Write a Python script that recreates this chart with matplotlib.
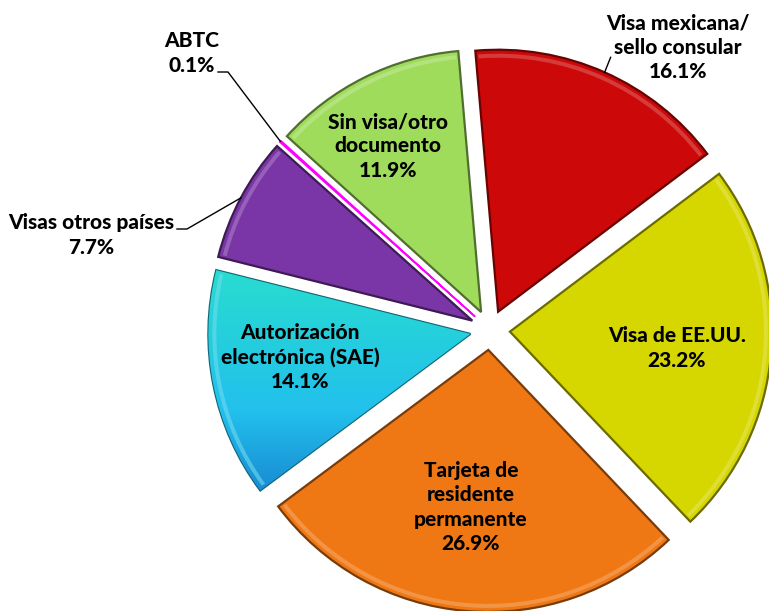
import numpy as np
import matplotlib
matplotlib.use("Agg")
import matplotlib.pyplot as plt
from matplotlib.colors import LinearSegmentedColormap, to_rgb
from matplotlib.patches import Wedge

categories = ["Visa mexicana/\nsello consular", "Visa de EE.UU.",
              "Tarjeta de\nresidente\npermanente", "Autorización\nelectrónica (SAE)",
              "Visas otros países", "ABTC", "Sin visa/otro\ndocumento"]
shares = [16.1, 23.2, 26.9, 14.1, 7.7, 0.1, 11.9]
colors = ["#CC0808", "#D6D600", "#F07814", "#22C8E6", "#7A35A6", "#FF20FF", "#A0DC5C"]

W, H = 769, 611
fig = plt.figure(figsize=(W / 100, H / 100), dpi=100)
ax = fig.add_axes([0, 0, 1, 1])

cx, cy, R = 490, H - 330, 262
# explode is in data units here (pixels)
wedges, _ = ax.pie(shares, colors=colors, startangle=95, counterclock=False,
                   center=(cx, cy), radius=R, explode=[20] * len(shares),
                   wedgeprops=dict(linewidth=1.6))


def shade(c, f):
    r = np.array(to_rgb(c))
    return tuple(r * f) if f < 1 else tuple(r + (1 - r) * (f - 1))


for w, c in zip(wedges, colors):
    w.set_edgecolor(shade(c, 0.5))
    # soft bevel highlight just inside the rim
    if w.theta2 - w.theta1 > 2:
        hl = Wedge(w.center, w.r - 4, w.theta1 + 0.6, w.theta2 - 0.6, width=4,
                   facecolor=shade(c, 1.35), edgecolor="none", alpha=0.6,
                   zorder=w.get_zorder() + 0.1)
        ax.add_patch(hl)
wedges[5].set_edgecolor("#FF00FF")
wedges[5].set_linewidth(1.2)

# gradient for the SAE slice
cmap = LinearSegmentedColormap.from_list("sae", ["#1262C0", "#22C0EC", "#28DCD0"])
grad = np.linspace(0, 1, 256).reshape(-1, 1)
im = ax.imshow(grad, cmap=cmap, extent=[cx - R - 40, cx, cy - R + 40, cy + 60],
               origin="lower", aspect="auto", zorder=wedges[3].get_zorder())
im.set_clip_path(wedges[3])
wedges[3].set_facecolor("none")


def outer_point(w):
    mid = np.deg2rad((w.theta1 + w.theta2) / 2)
    return w.center[0] + w.r * np.cos(mid), w.center[1] + w.r * np.sin(mid)


font = dict(fontfamily="Lato", fontweight="black", fontsize=15, color="black",
            ha="center", va="center", linespacing=1.32)

# labels inside slices
ax.text(677, H - 348, f"{categories[1]}\n{shares[1]}%", **font)
ax.text(471, H - 507, f"{categories[2]}\n{shares[2]}%", **font)
ax.text(300, H - 357, f"{categories[3]}\n{shares[3]}%", **font)
ax.text(388, H - 146, f"{categories[6]}\n{shares[6]}%", **font)

# labels outside with leader lines
ax.text(678, H - 47, f"{categories[0]}\n{shares[0]}%", **font)
px, py = outer_point(wedges[0])
ax.plot([px, px + 6], [py, py + 15], color="black", lw=1)

ax.text(91, H - 235, f"{categories[4]}\n{shares[4]}%", **font)
px, py = outer_point(wedges[4])
ax.plot([177, 187, px], [H - 229, H - 229, py], color="black", lw=1)

ax.text(192, H - 53, f"{categories[5]}\n{shares[5]}%", **font)
px, py = outer_point(wedges[5])
ax.plot([218, 228, px], [H - 72, H - 72, py], color="black", lw=1)

ax.set_xlim(0, W)
ax.set_ylim(0, H)
ax.axis("off")
fig.savefig("out.png", dpi=100)
